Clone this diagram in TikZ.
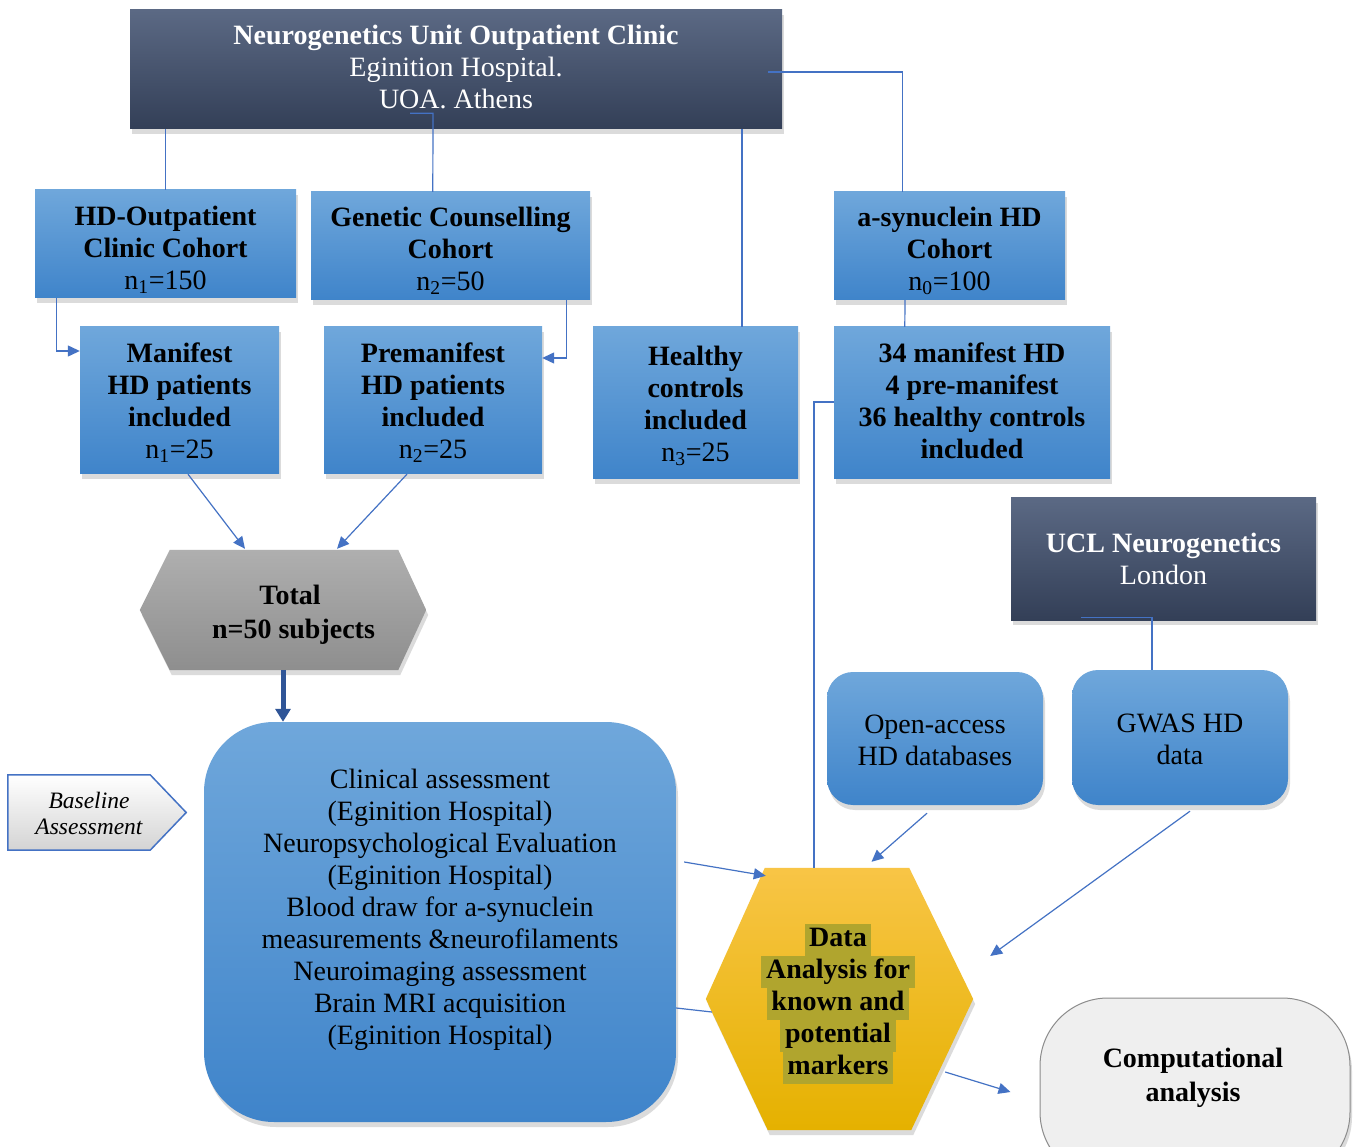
\documentclass[tikz,border=0pt]{standalone}
\usepackage{fontspec}
\setmainfont{Liberation Serif}
\usetikzlibrary{arrows.meta,shadows,calc}
\definecolor{conncol}{HTML}{4472C4}
\definecolor{arrdark}{HTML}{2F5597}
\definecolor{blueT}{HTML}{6FA7DB}
\definecolor{blueM}{HTML}{5097DD}
\definecolor{blueB}{HTML}{3F84CA}
\definecolor{darkT}{HTML}{5B6984}
\definecolor{darkB}{HTML}{333F57}
\definecolor{grayT}{HTML}{AFAFAF}
\definecolor{grayM}{HTML}{A6A6A6}
\definecolor{grayB}{HTML}{8E8E8E}
\definecolor{yelT}{HTML}{F8C546}
\definecolor{yelM}{HTML}{F8C200}
\definecolor{yelB}{HTML}{E5B100}
\definecolor{hlcol}{HTML}{B0A52E}
\definecolor{compfill}{HTML}{EFEFEF}
\newcommand{\hlline}[1]{{\setlength{\fboxsep}{0pt}\colorbox{hlcol}{\strut\,#1\,}}}
\tikzset{
  fs/.style={font=\fontsize{28}{32}\selectfont},
  shd/.style={drop shadow={shadow xshift=2pt,shadow yshift=-5pt,opacity=0.28}},
  bluebox/.style={rectangle, shd, top color=blueT, middle color=blueM, bottom color=blueB, inner sep=0pt},
  bluerbox/.style={bluebox, rounded corners=26pt},
  darkbox/.style={rectangle, shd, top color=darkT, bottom color=darkB, inner sep=0pt},
  txt/.style={align=center, fs, inner sep=0pt},
  wtxt/.style={txt, text=white},
  conn/.style={draw=conncol, line width=1.2pt},
  arr/.style={conn, -{Triangle[length=12pt,width=11pt]}},
  thickarr/.style={draw=arrdark, line width=5pt, -{Triangle[length=13pt,width=15pt]}},
}
\begin{document}
\begin{tikzpicture}[x=1pt,y=-1pt]
\useasboundingbox (0,0) rectangle (1361,1147);
\fill[white] (0,0) rectangle (1361,1147);

% top boxes
\node[darkbox, minimum width=652pt, minimum height=119pt] (top) at (456,69.5) {};
\node[wtxt] (topT) at (456,66.5) {\textbf{Neurogenetics Unit Outpatient Clinic}\\Eginition Hospital.\\UOA. Athens};
\node[bluebox, minimum width=261pt, minimum height=108pt] (hdout) at (165.5,244) {};
\node[txt] (hdoutT) at (165.5,250) {\textbf{HD-Outpatient}\\\textbf{Clinic Cohort}\\n\textsubscript{1}=150};
\node[bluebox, minimum width=279pt, minimum height=108pt] (gen) at (450.5,246) {};
\node[txt] (genT) at (450.5,251) {\textbf{Genetic Counselling}\\\textbf{Cohort}\\n\textsubscript{2}=50};
\node[bluebox, minimum width=231pt, minimum height=108pt] (asyn) at (949.5,246) {};
\node[txt] (asynT) at (949.5,251) {\textbf{a-synuclein HD}\\\textbf{Cohort}\\n\textsubscript{0}=100};

\node[bluebox, minimum width=199pt, minimum height=147pt] (man) at (179.5,400.5) {};
\node[txt] (manT) at (179.5,402.5) {\textbf{Manifest}\\\textbf{HD patients}\\\textbf{included}\\n\textsubscript{1}=25};
\node[bluebox, minimum width=218pt, minimum height=147pt] (pre) at (433,400.5) {};
\node[txt] (preT) at (433,402.5) {\textbf{Premanifest}\\\textbf{HD patients}\\\textbf{included}\\n\textsubscript{2}=25};
\node[bluebox, minimum width=205pt, minimum height=152pt] (hc) at (695.5,403) {};
\node[txt] (hcT) at (695.5,406) {\textbf{Healthy}\\\textbf{controls}\\\textbf{included}\\n\textsubscript{3}=25};
\node[bluebox, minimum width=276pt, minimum height=152pt] (m34) at (972,403) {};
\node[txt] (m34T) at (972,401) {\textbf{34 manifest HD}\\\textbf{4 pre-manifest}\\\textbf{36 healthy controls}\\\textbf{included}};

\node[darkbox, minimum width=305pt, minimum height=122pt] (ucl) at (1163.5,559) {};
\node[wtxt] (uclT) at (1163.5,559) {\textbf{UCL Neurogenetics}\\London};

% Total hexagon
\node[txt, minimum width=286pt, minimum height=120pt] (total) at (283,610) {};
\path[shd, top color=grayT, middle color=grayM, bottom color=grayB]
  ($(total.north west)+(30,0)$) -- ($(total.north east)+(-28,0)$) -- (total.east)
  -- ($(total.south east)+(-28,0)$) -- ($(total.south west)+(30,0)$) -- (total.west) -- cycle;
\node[txt, font=\fontsize{28}{34}\selectfont\bfseries] (totaltext) at (290,615) {Total\\\ n=50 subjects};

% big assessment box
\node[bluebox, rounded corners=70pt, minimum width=472pt, minimum height=400pt] (big) at (440,922) {};
\node[txt] (bigtext) at (440,909.5) {Clinical assessment\\(Eginition Hospital)\\Neuropsychological Evaluation\\(Eginition Hospital)\\Blood draw for a-synuclein\\measurements \&neurofilaments\\Neuroimaging assessment\\Brain MRI acquisition\\(Eginition Hospital)};

% baseline assessment
\node[txt, minimum width=178pt, minimum height=75pt] (base) at (97,812.5) {};
\path[draw=conncol, line width=1.5pt, top color=white, bottom color=black!17]
  (base.north west) -- ($(base.north east)+(-36,0)$) -- (base.east) -- ($(base.south east)+(-36,0)$) -- (base.south west) -- cycle;
\node[txt, font=\fontsize{23.5}{26}\selectfont\itshape] (basetext) at (89,813) {Baseline\\Assessment};

% open-access and GWAS
\node[bluerbox, minimum width=216pt, minimum height=133pt] (open) at (935,738.5) {};
\node[txt] (openT) at (935,740.5) {Open-access\\HD databases};
\node[bluerbox, minimum width=216pt, minimum height=135pt] (gwas) at (1180,737.5) {};
\node[txt] (gwasT) at (1180,739) {GWAS HD\\data};

% data analysis hexagon
\node[txt, minimum width=267pt, minimum height=262pt] (data) at (839.5,999) {};
\path[shd, top color=yelT, middle color=yelM, bottom color=yelB]
  ($(data.north west)+(59,0)$) -- ($(data.north east)+(-64,0)$) -- (data.east)
  -- ($(data.south east)+(-62,0)$) -- ($(data.south west)+(62,0)$) -- (data.west) -- cycle;
\node[txt, font=\fontsize{28}{32}\selectfont\bfseries] (datatext) at (838,1004)
  {\hlline{Data}\\\hlline{Analysis for}\\\hlline{known and}\\\hlline{potential}\\\hlline{markers}};

% computational analysis
\node[rectangle, rounded corners=68pt, fill=compfill, draw=black!45, line width=1pt, shd, minimum width=310pt, minimum height=182pt] (comp) at (1195,1089) {};
\node[txt, font=\fontsize{28}{34}\selectfont\bfseries] (comptext) at (1193,1078) {Computational\\analysis};

% connectors
\draw[conn] (top.south -| hdout.north) -- (hdout.north);
\draw[conn] ($(top.south)+(-46,-16)$) -- ++(23,0) -- ($(gen.north west)+(122,0)$);
\draw[conn] ($(top.east)+(-14,2.5)$) -| ($(asyn.north west)+(69,0)$);
\draw[conn] ($(top.south)+(286,0)$) -- ($(hc.north)+(46.5,0)$);
\draw[arr] ($(hdout.south west)+(22,0)$) |- ($(man.west)+(0,-49.5)$);
\draw[arr] ($(gen.south east)+(-24,0)$) |- ($(pre.east)+(0,-42.5)$);
\draw[conn] ($(asyn.south)+(-44.5,0)$) -- ($(m34.north west)+(71,0)$);
\draw[conn] ($(m34.west)+(0,-1)$) -| ($(data.north)+(-25.5,0)$);
\draw[conn] ($(ucl.south)+(-82.5,-3)$) -- ($(ucl.south)+(-11.5,-3)$) -- ($(gwas.north)+(-28,0)$);

\draw[arr] ($(man.south)+(8.5,0)$) -- ($(total.north)+(-38,-1)$);
\draw[arr] ($(pre.south)+(-26,0)$) -- ($(total.north)+(54,-1)$);
\draw[thickarr] (total.south) -- (total.south |- big.north);

\draw[arr] ($(big.east)+(8,-60)$) -- ($(data.north west)+(60,8)$);
\draw[conn] ($(big.east)+(0,86)$) -- ($(data.west)+(6,13)$);
\draw[arr] ($(open.south)+(-8,8)$) -- ($(data.north)+(32,-6)$);
\draw[arr] ($(gwas.south)+(10,6)$) -- ($(data.east)+(17,-43)$);
\draw[arr] ($(data.east)+(-28,73)$) -- ($(comp.west)+(-29,3)$);
\end{tikzpicture}
\end{document}
